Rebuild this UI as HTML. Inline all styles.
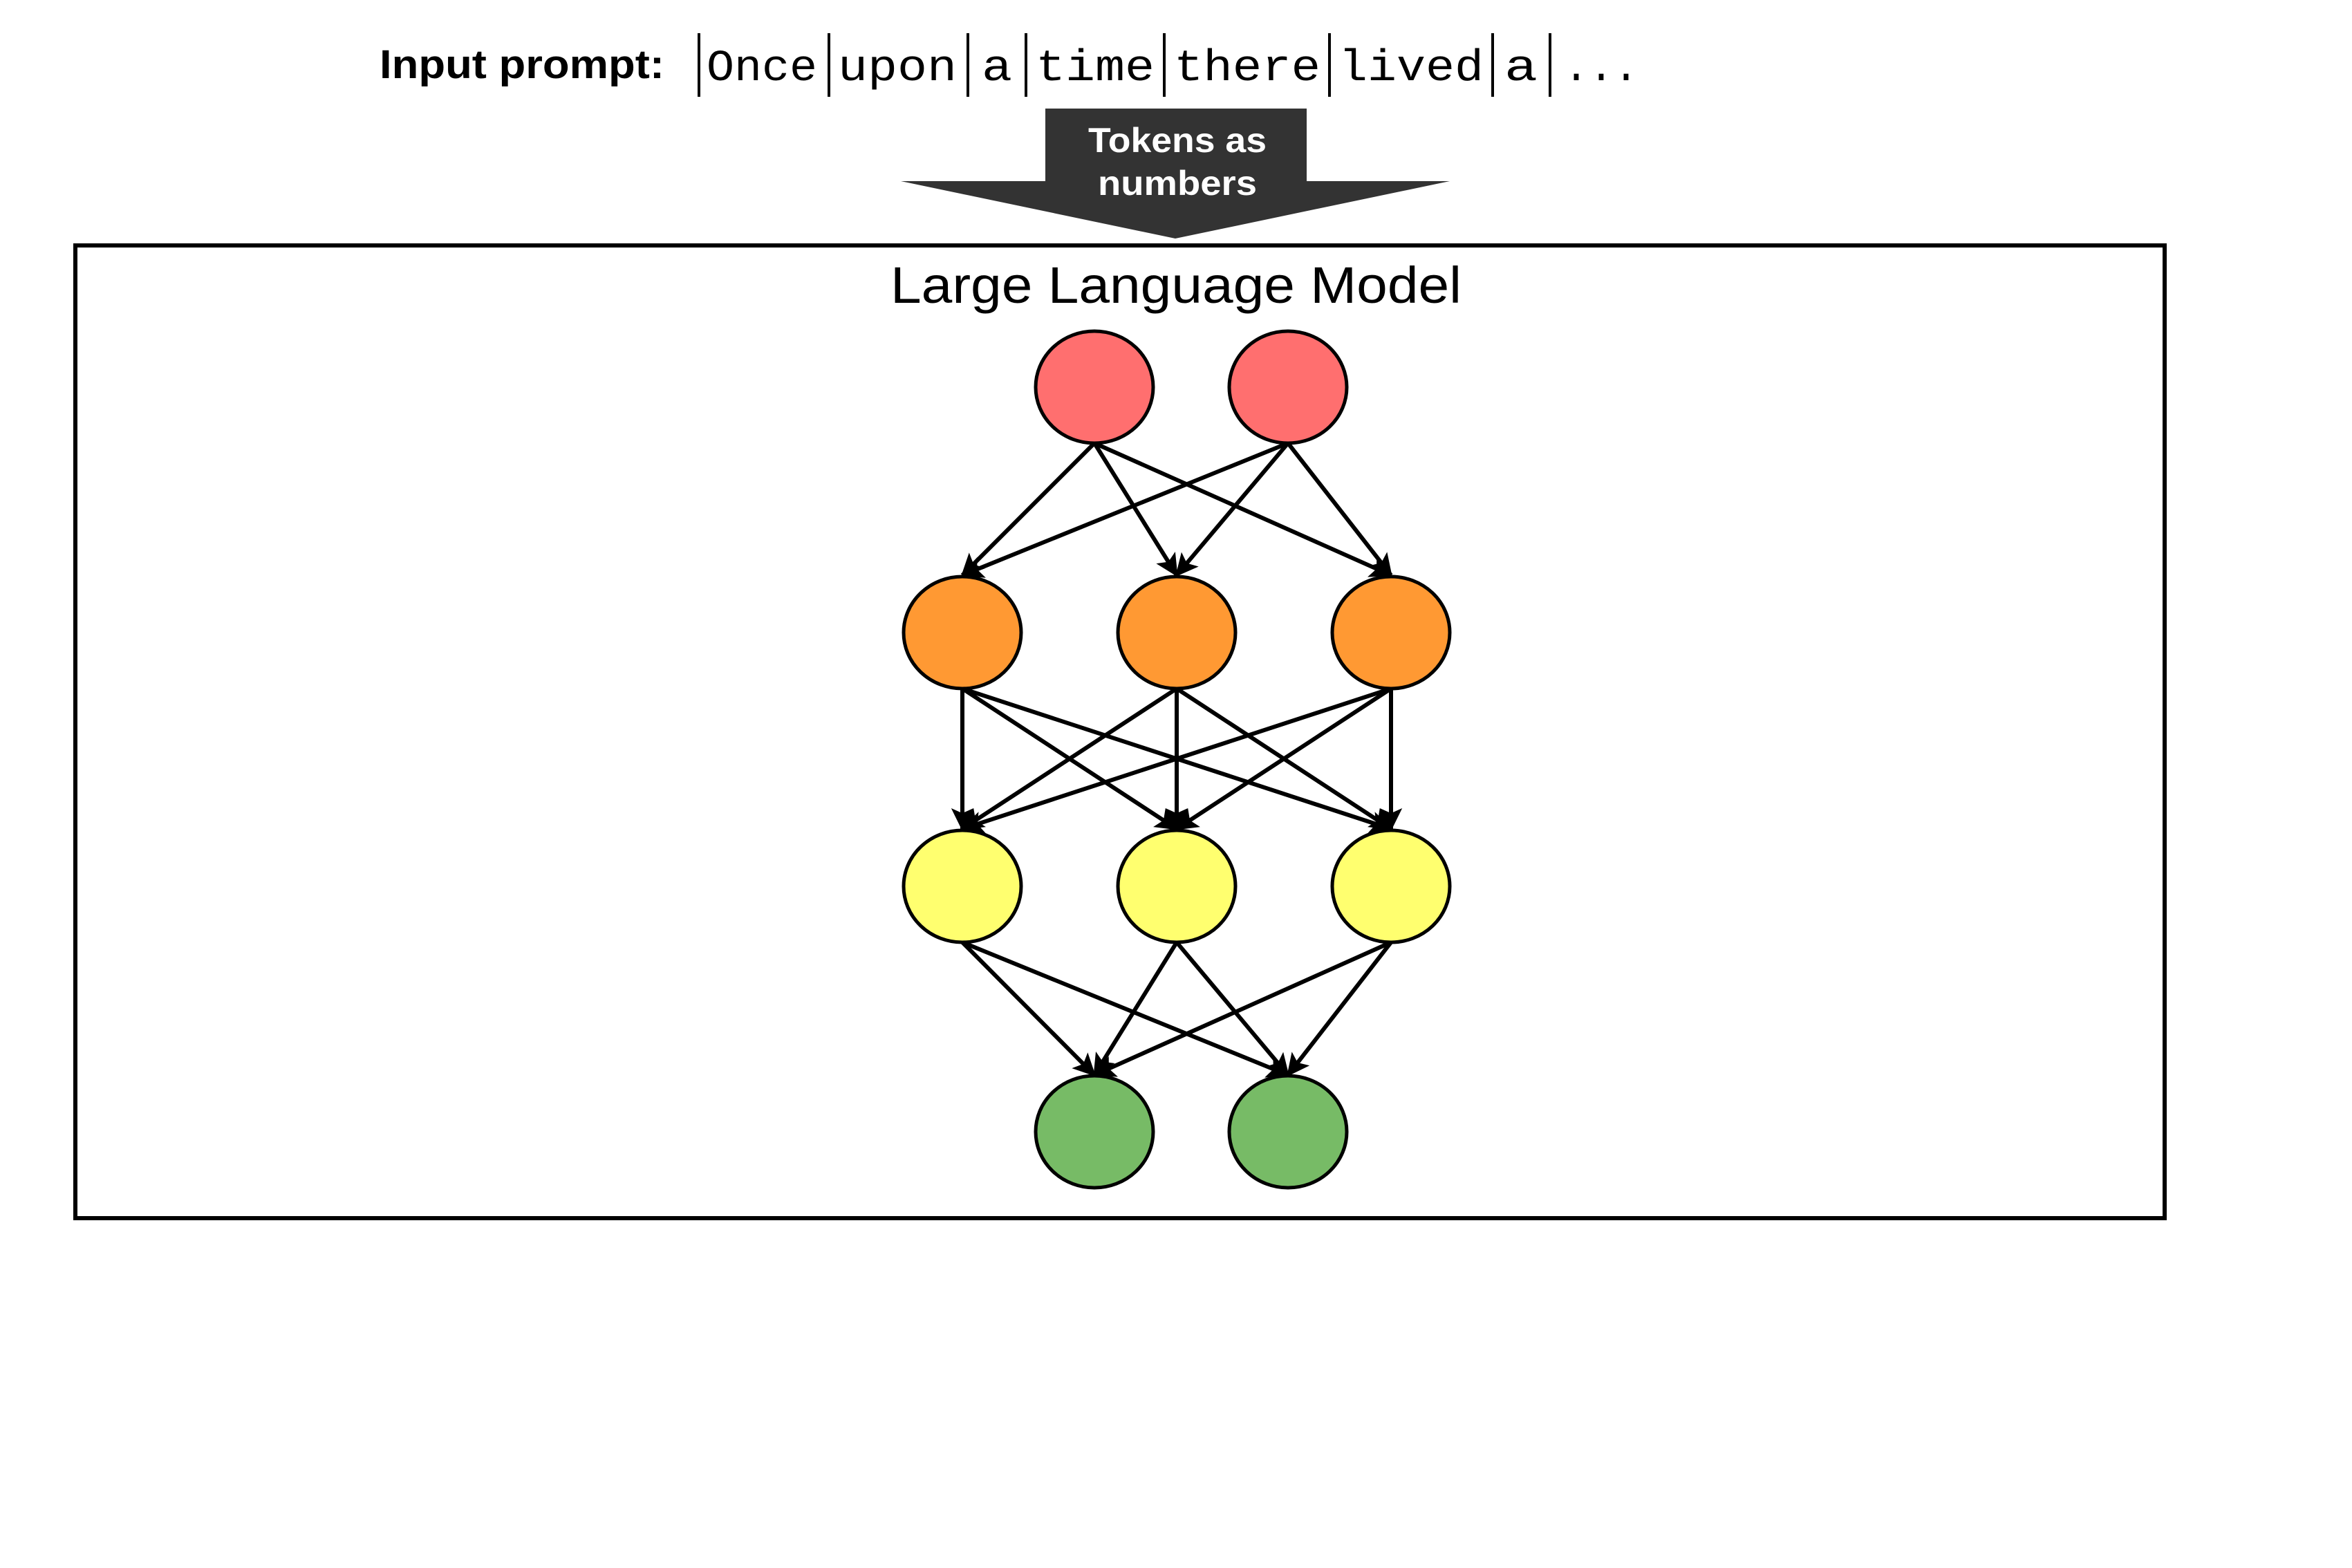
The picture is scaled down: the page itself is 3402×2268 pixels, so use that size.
<!DOCTYPE html>
<html><head><meta charset="utf-8"><style>
html,body{margin:0;padding:0;background:#fff;}
svg{display:block;}
</style></head><body>
<svg width="3402" height="2268" viewBox="0 0 3402 2268" xmlns="http://www.w3.org/2000/svg">
<defs>
<marker id="ah" markerWidth="6" markerHeight="6" refX="5" refY="3" orient="auto" markerUnits="strokeWidth">
<path d="M0,0.3 L5.5,3 L0,5.7 L1.2,3 Z" fill="#000"/>
</marker>
</defs>
<rect width="3402" height="2268" fill="#fff"/>
<text x="549" y="113" font-family="Liberation Sans, sans-serif" font-weight="bold" font-size="58" textLength="412" lengthAdjust="spacingAndGlyphs">Input prompt:</text>
<g stroke="#000" stroke-width="4">
<line x1="1011" y1="48" x2="1011" y2="140"/>
<line x1="1199" y1="48" x2="1199" y2="140"/>
<line x1="1400" y1="48" x2="1400" y2="140"/>
<line x1="1484" y1="48" x2="1484" y2="140"/>
<line x1="1684" y1="48" x2="1684" y2="140"/>
<line x1="1923" y1="48" x2="1923" y2="140"/>
<line x1="2159" y1="48" x2="2159" y2="140"/>
<line x1="2242" y1="48" x2="2242" y2="140"/>
</g>
<g font-family="Liberation Mono, monospace" font-size="64" fill="#000">
<text x="1022" y="116" textLength="160" lengthAdjust="spacingAndGlyphs">Once</text>
<text x="1212" y="116" textLength="172" lengthAdjust="spacingAndGlyphs">upon</text>
<text x="1420" y="116" textLength="44" lengthAdjust="spacingAndGlyphs">a</text>
<text x="1498" y="116" textLength="172" lengthAdjust="spacingAndGlyphs">time</text>
<text x="1698" y="116" textLength="212" lengthAdjust="spacingAndGlyphs">there</text>
<text x="1936" y="116" textLength="210" lengthAdjust="spacingAndGlyphs">lived</text>
<text x="2176" y="116" textLength="48" lengthAdjust="spacingAndGlyphs">a</text>
<text x="2262" y="116" textLength="108" lengthAdjust="spacingAndGlyphs">...</text>
</g>
<polygon points="1512,157 1890,157 1890,262 2097,262 1700,345 1303,262 1512,262" fill="#333"/>
<g font-family="Liberation Sans, sans-serif" font-weight="bold" font-size="50" fill="#fff" text-anchor="middle">
<text x="1703" y="220" textLength="258" lengthAdjust="spacingAndGlyphs">Tokens as</text>
<text x="1703" y="282" textLength="230" lengthAdjust="spacingAndGlyphs">numbers</text>
</g>
<rect x="109" y="355" width="3022" height="1407" fill="none" stroke="#000" stroke-width="6"/>
<text x="1288" y="438" font-family="Liberation Sans, sans-serif" font-size="74" textLength="826" lengthAdjust="spacingAndGlyphs">Large Language Model</text>
<g stroke="#000" stroke-width="6" fill="none" marker-end="url(#ah)">
<line x1="1583" y1="641" x2="1392" y2="832"/>
<line x1="1583" y1="641" x2="1702" y2="832"/>
<line x1="1583" y1="641" x2="2012" y2="832"/>
<line x1="1863" y1="641" x2="1392" y2="832"/>
<line x1="1863" y1="641" x2="1702" y2="832"/>
<line x1="1863" y1="641" x2="2012" y2="832"/>

<line x1="1392" y1="996" x2="1392" y2="1199"/>
<line x1="1392" y1="996" x2="1702" y2="1199"/>
<line x1="1392" y1="996" x2="2012" y2="1199"/>
<line x1="1702" y1="996" x2="1392" y2="1199"/>
<line x1="1702" y1="996" x2="1702" y2="1199"/>
<line x1="1702" y1="996" x2="2012" y2="1199"/>
<line x1="2012" y1="996" x2="1392" y2="1199"/>
<line x1="2012" y1="996" x2="1702" y2="1199"/>
<line x1="2012" y1="996" x2="2012" y2="1199"/>

<line x1="1392" y1="1363" x2="1583" y2="1555"/>
<line x1="1392" y1="1363" x2="1863" y2="1555"/>
<line x1="1702" y1="1363" x2="1583" y2="1555"/>
<line x1="1702" y1="1363" x2="1863" y2="1555"/>
<line x1="2012" y1="1363" x2="1583" y2="1555"/>
<line x1="2012" y1="1363" x2="1863" y2="1555"/>
</g>
<g stroke="#000" stroke-width="5">
<ellipse cx="1583" cy="560" rx="85" ry="81" fill="#FF6F6F"/>
<ellipse cx="1863" cy="560" rx="85" ry="81" fill="#FF6F6F"/>
<ellipse cx="1392" cy="915" rx="85" ry="81" fill="#FF9933"/>
<ellipse cx="1702" cy="915" rx="85" ry="81" fill="#FF9933"/>
<ellipse cx="2012" cy="915" rx="85" ry="81" fill="#FF9933"/>
<ellipse cx="1392" cy="1282" rx="85" ry="81" fill="#FFFF6F"/>
<ellipse cx="1702" cy="1282" rx="85" ry="81" fill="#FFFF6F"/>
<ellipse cx="2012" cy="1282" rx="85" ry="81" fill="#FFFF6F"/>
<ellipse cx="1583" cy="1637" rx="85" ry="81" fill="#77BB66"/>
<ellipse cx="1863" cy="1637" rx="85" ry="81" fill="#77BB66"/>
</g>
</svg>
</body></html>
